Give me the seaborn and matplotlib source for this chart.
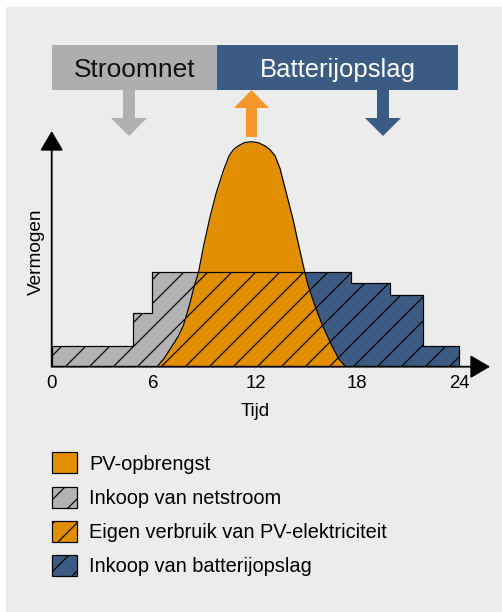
import numpy as np
import matplotlib
matplotlib.use("Agg")
import matplotlib.pyplot as plt
import seaborn as sns
from matplotlib.patches import Rectangle, Polygon, Patch

# demand profile (steps) and PV yield
load_edges = [0, 4.8, 5.9, 17.6, 19.9, 21.85, 24]
load_levels = [9.2, 24, 42.2, 37, 32, 9.2]

pv_hours = [6.2, 6.6, 7.1, 7.45, 7.75, 8.1, 8.4, 8.65, 8.95, 9.3, 9.7, 10.15, 10.45, 10.7,
            11.0, 11.35, 11.75, 12.15, 12.55, 12.85, 13.15, 13.45, 13.8, 14.2, 14.55,
            14.9, 15.1, 15.5, 15.95, 16.5, 16.9, 17.3]
pv_values = [0, 3.5, 9.3, 13.5, 18.2, 27.1, 36, 42.1, 53.8, 65.8, 77.6, 88, 93.8, 96.5,
             98.2, 99.6, 100, 99.6, 98.2, 96.5, 93.8, 88, 77.6, 65.8, 53.8,
             42.1, 36, 27.1, 18.2, 9.3, 3.5, 0]

xticks = [0, 6, 12, 18, 24]
legend_labels = ["PV-opbrengst", "Inkoop van netstroom",
                 "Eigen verbruik van PV-elektriciteit", "Inkoop van batterijopslag"]

ORANGE = "#e18e00"
ORANGE_ARROW = "#f5962a"
GREY = "#b2b2b2"
BLUE = "#3b5b82"
BG = "#ececec"
HATCH = "//"

sns.set_theme(style="white")
plt.rcParams["font.family"] = ["Liberation Sans", "DejaVu Sans"]
plt.rcParams["hatch.linewidth"] = 0.6

W, H, DPI = 502, 612, 144
fig = plt.figure(figsize=(W / DPI, H / DPI), dpi=DPI, facecolor="white")
fig.patches.append(Rectangle((6 / W, 0), 1, 1 - 7 / H, transform=fig.transFigure,
                             facecolor=BG, edgecolor="none", zorder=-5))

# main axes, placed in pixels
x0, x1, y0, y1 = 51.7, 490, 366.7, 131
ax = fig.add_axes([x0 / W, 1 - y0 / H, (x1 - x0) / W, (y0 - y1) / H])
ax.set_facecolor("none")
ax.set_xlim(0, 25.81)
ax.set_ylim(0, 104.76)
for s in ax.spines.values():
    s.set_visible(False)

xs = np.repeat(load_edges, 2)
ys = np.concatenate([[0], np.repeat(load_levels, 2), [0]])

ax.fill(xs, ys, color=GREY, lw=0, zorder=1)
blue = ax.fill(xs, ys, color=BLUE, lw=0, zorder=1.1)[0]
blue.set_clip_path(Rectangle((12, 0), 20, 200, transform=ax.transData))
ax.fill_between(pv_hours, pv_values, color=ORANGE, lw=0, zorder=2)
ax.fill(xs, ys, facecolor="none", edgecolor="black", hatch=HATCH, lw=0, zorder=3)

sns.lineplot(x=pv_hours, y=pv_values, color="black", linewidth=0.6, sort=False,
             estimator=None, ax=ax, zorder=4)
sns.lineplot(x=xs, y=ys, color="black", linewidth=0.6, sort=False,
             estimator=None, ax=ax, zorder=4)

arrow_style = "-|>,head_length=8.5,head_width=5"
for end in [(1, 0), (0, 1)]:
    ax.annotate("", xy=end, xytext=(0, 0), xycoords="axes fraction",
                arrowprops=dict(arrowstyle=arrow_style, color="black", lw=0.9,
                                shrinkA=0, shrinkB=0, mutation_scale=1), zorder=6)

ax.set_xticks(xticks)
ax.set_xticklabels([str(t) for t in xticks])
ax.set_yticks([])
ax.tick_params(axis="x", length=0, pad=4, labelsize=9.3, colors="black")
ax.set_xlabel("Tijd", fontsize=9.3, color="black")
ax.xaxis.set_label_coords(12 / 25.81, -0.152)
ax.set_ylabel("Vermogen", fontsize=9.5, color="black")
ax.yaxis.set_label_coords(-0.016, 0.487)

# banner with arrows on top, drawn in pixel units
top = fig.add_axes([0, 0, 1, 1], facecolor="none")
top.set_xlim(0, W)
top.set_ylim(H, 0)
top.axis("off")
top.add_patch(Rectangle((52, 45), 165, 45, facecolor="#aeaeae", edgecolor="none"))
top.add_patch(Rectangle((217, 45), 241, 45, facecolor=BLUE, edgecolor="none"))
top.text(134.5, 77.3, "Stroomnet", ha="center", va="baseline", fontsize=13.2, color="#111111")
top.text(337.5, 77.3, "Batterijopslag", ha="center", va="baseline", fontsize=12.8, color="white")


def down_arrow(cx, color):
    pts = [(cx - 6, 90), (cx + 6, 90), (cx + 6, 118), (cx + 18, 118), (cx, 136),
           (cx - 18, 118), (cx - 6, 118)]
    top.add_patch(Polygon(pts, closed=True, facecolor=color, edgecolor="none"))


def up_arrow(cx, color):
    pts = [(cx - 5.5, 137), (cx + 5.5, 137), (cx + 5.5, 108), (cx + 17.5, 108), (cx, 90),
           (cx - 17.5, 108), (cx - 5.5, 108)]
    top.add_patch(Polygon(pts, closed=True, facecolor=color, edgecolor="none"))


down_arrow(129, "#b0b0b0")
up_arrow(251.5, ORANGE_ARROW)
down_arrow(383, BLUE)

handles = [
    Patch(facecolor=ORANGE, edgecolor="black", lw=0.6),
    Patch(facecolor=GREY, edgecolor="black", hatch=HATCH, lw=0.6),
    Patch(facecolor=ORANGE, edgecolor="black", hatch=HATCH, lw=0.6),
    Patch(facecolor=BLUE, edgecolor="black", hatch=HATCH, lw=0.6),
]
fig.legend(handles, legend_labels, loc="upper left",
           bbox_to_anchor=(51.7 / W, 1 - 452.3 / H), frameon=False, fontsize=10,
           handlelength=1.25, handleheight=1.25, labelspacing=0.65,
           handletextpad=0.63, borderpad=0, borderaxespad=0, labelcolor="black")

fig.savefig("out.png", dpi=DPI)
